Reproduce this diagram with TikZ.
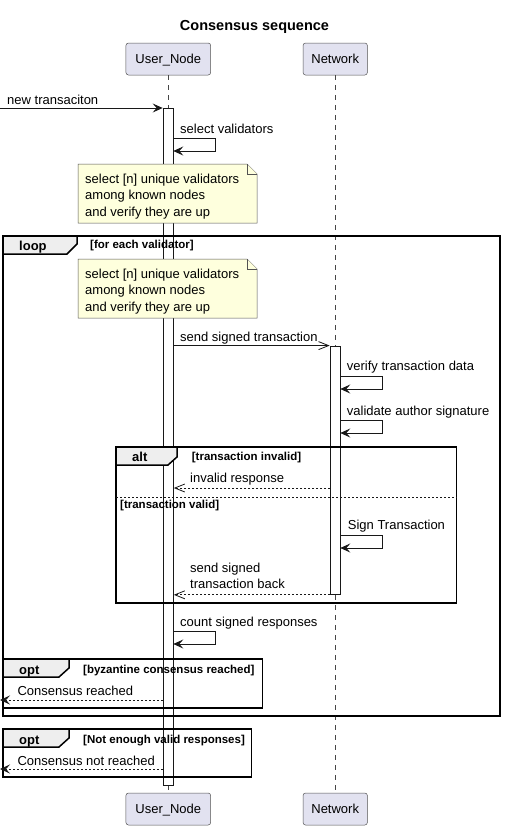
\documentclass[tikz,border=0pt]{standalone}
\usepackage{fontspec}
\setmainfont{Liberation Sans}
\usepackage{tikz}
\usetikzlibrary{arrows.meta,positioning,calc}
\definecolor{umlpart}{HTML}{E2E2F0}
\definecolor{umlline}{HTML}{181818}
\definecolor{umlnote}{HTML}{FEFFDD}
\definecolor{umltab}{HTML}{EEEEEE}
\tikzstyle{participant} = [draw=umlline!75, fill=umlpart, rounded corners=2.5pt, line width=0.5pt, inner sep=0pt, font=\fontsize{13}{15}\selectfont, text height=9pt, text depth=0pt]
\tikzstyle{lifeline} = [umlline!80, line width=0.5pt, dash pattern=on 5pt off 5pt]
\tikzstyle{actbar} = [draw=umlline, fill=white, line width=0.8pt, inner sep=0pt, minimum width=10.3pt]
\tikzstyle{msg} = [umlline, line width=0.8pt, -{Stealth[length=10pt,width=9pt,inset=4pt]}]
\tikzstyle{async} = [umlline, line width=0.8pt, -{Straight Barb[length=10pt,width=8pt]}]
\tikzstyle{reply} = [async, dash pattern=on 2pt off 2pt]
\tikzstyle{retmsg} = [msg, dash pattern=on 2pt off 2pt]
\tikzstyle{lbl} = [anchor=base west, inner sep=0pt, font=\fontsize{13}{16}\selectfont]
\tikzstyle{notebox} = [draw=umlline!75, fill=umlnote, line width=0.5pt]
\tikzstyle{notetext} = [anchor=north west, inner sep=0pt, align=left, font=\fontsize{13}{16.5}\selectfont]
\tikzstyle{seqframe} = [draw=black, line width=1.5pt]
\tikzstyle{seqtab} = [draw=black, fill=umltab, line width=1.5pt]
\tikzstyle{kw} = [anchor=base west, inner sep=0pt, font=\fontsize{13}{15}\selectfont\bfseries]
\tikzstyle{guard} = [anchor=base west, inner sep=0pt, font=\fontsize{11.5}{13}\selectfont\bfseries]
\tikzstyle{separator} = [umlline, line width=0.8pt, dash pattern=on 2pt off 2pt]

\begin{document}
\begin{tikzpicture}[x=1pt, y=-1pt]
    \useasboundingbox (0,0) rectangle (504,830);

    % Title
    \node[anchor=base, inner sep=0pt, font=\fontsize{14.5}{17}\selectfont\bfseries] (title) at (254.5,30) {Consensus sequence};

    % Participants
    \node[participant, minimum width=84.7pt, minimum height=32pt] (usertop) at (168.3,59) {User\_Node};
    \node[participant, minimum width=64.3pt, minimum height=32pt] (nettop) at (335.2,59) {Network};
    \node[participant, minimum width=84.7pt, minimum height=32pt] (userbot) at (168.3,809) {User\_Node};
    \node[participant, minimum width=64.3pt, minimum height=32pt] (netbot) at (335.2,809) {Network};

    % Lifelines
    \draw[lifeline] (usertop.south) -- (userbot.north);
    \draw[lifeline] (nettop.south) -- (netbot.north);

    % Activations
    \node[actbar, minimum height=677pt, anchor=north] (userbar) at (168.2,108) {};
    \node[actbar, minimum height=248.4pt, anchor=north] (netbar) at (335.2,345.6) {};

    % Notes
    \draw[notebox] (78,164) -- (247,164) -- (257,174) -- (257,223) -- (78,223) -- cycle;
    \draw[notebox] (247,164) -- (247,174) -- (257,174);
    \node[notetext] (note1) at (85,173.5) {select [n] unique validators\\among known nodes\\and verify they are up};
    \draw[notebox] (78,259) -- (247,259) -- (257,269) -- (257,318) -- (78,318) -- cycle;
    \draw[notebox] (247,259) -- (247,269) -- (257,269);
    \node[notetext] (note2) at (85,268.5) {select [n] unique validators\\among known nodes\\and verify they are up};

    % Frames
    \draw[seqframe] (3,236) rectangle (500,716);
    \draw[seqtab] (3,236) -- (77,236) -- (77,244) -- (67,254) -- (3,254) -- cycle;
    \node[kw] (looplbl) at (19,250) {loop};
    \node[guard] (loopgd) at (90,248) {[for each validator]};

    \draw[seqframe] (116,447) rectangle (456.7,603);
    \draw[seqtab] (116,447) -- (177,447) -- (177,457) -- (168,465) -- (116,465) -- cycle;
    \node[kw] (altlbl) at (132,461.5) {alt};
    \node[guard] (altgd1) at (191.7,460) {[transaction invalid]};
    \draw[separator] (116,497) -- (456.7,497);
    \node[guard] (altgd2) at (120,508) {[transaction valid]};

    \draw[seqframe] (3,659) rectangle (262.3,708);
    \draw[seqtab] (3,659) -- (69,659) -- (69,668) -- (59,677) -- (3,677) -- cycle;
    \node[kw] (optlbl1) at (19,674) {opt};
    \node[guard] (optgd1) at (83,673) {[byzantine consensus reached]};

    \draw[seqframe] (3,729) rectangle (251.7,777);
    \draw[seqtab] (3,729) -- (69,729) -- (69,738) -- (59,747) -- (3,747) -- cycle;
    \node[kw] (optlbl2) at (19,744) {opt};
    \node[guard] (optgd2) at (83,743) {[Not enough valid responses]};

    % Messages
    \coordinate (newin) at (0,108);
    \draw[msg] (newin) -- (userbar.north west);
    \node[lbl] (newlbl) at (7,104) {new transaciton};

    \coordinate (selv) at (173.3,138);
    \draw[msg] (selv) -- ++(42,0) -- ++(0,13) -- ++(-42,0);
    \node[lbl] (selvlbl) at (180,133) {select validators};

    \draw[async] (userbar.east |- netbar.north) -- (netbar.north west);
    \node[lbl] (sendlbl) at (180,341.5) {send signed transaction};

    \coordinate (vfy) at (340.3,376);
    \draw[msg] (vfy) -- ++(42,0) -- ++(0,13) -- ++(-42,0);
    \node[lbl] (vfylbl) at (346.7,370) {verify transaction data};

    \coordinate (vas) at (340.3,420);
    \draw[msg] (vas) -- ++(42,0) -- ++(0,13) -- ++(-42,0);
    \node[lbl] (vaslbl) at (346.7,415) {validate author signature};

    \coordinate (inv) at (330,488);
    \draw[reply] (inv) -- (inv -| userbar.east);
    \node[lbl] (invlbl) at (190,482.7) {invalid response};

    \coordinate (sgn) at (340.3,535);
    \draw[msg] (sgn) -- ++(42,0) -- ++(0,13) -- ++(-42,0);
    \node[lbl] (sgnlbl) at (347.7,529) {Sign Transaction};

    \draw[reply] (netbar.south west) -- (netbar.south west -| userbar.east);
    \node[lbl] (backlbl) at (190,572.3) {send signed};
    \node[lbl] (backlbl2) at (190,588.3) {transaction back};

    \coordinate (cnt) at (173.3,631);
    \draw[msg] (cnt) -- ++(42,0) -- ++(0,13) -- ++(-42,0);
    \node[lbl] (cntlbl) at (180,626.7) {count signed responses};

    \coordinate (okout) at (0,700);
    \draw[retmsg] (okout -| userbar.west) -- (okout);
    \node[lbl] (oklbl) at (17.3,695) {Consensus reached};

    \coordinate (nokout) at (0,769);
    \draw[retmsg] (nokout -| userbar.west) -- (nokout);
    \node[lbl] (noklbl) at (17.3,765) {Consensus not reached};
\end{tikzpicture}
\end{document}
